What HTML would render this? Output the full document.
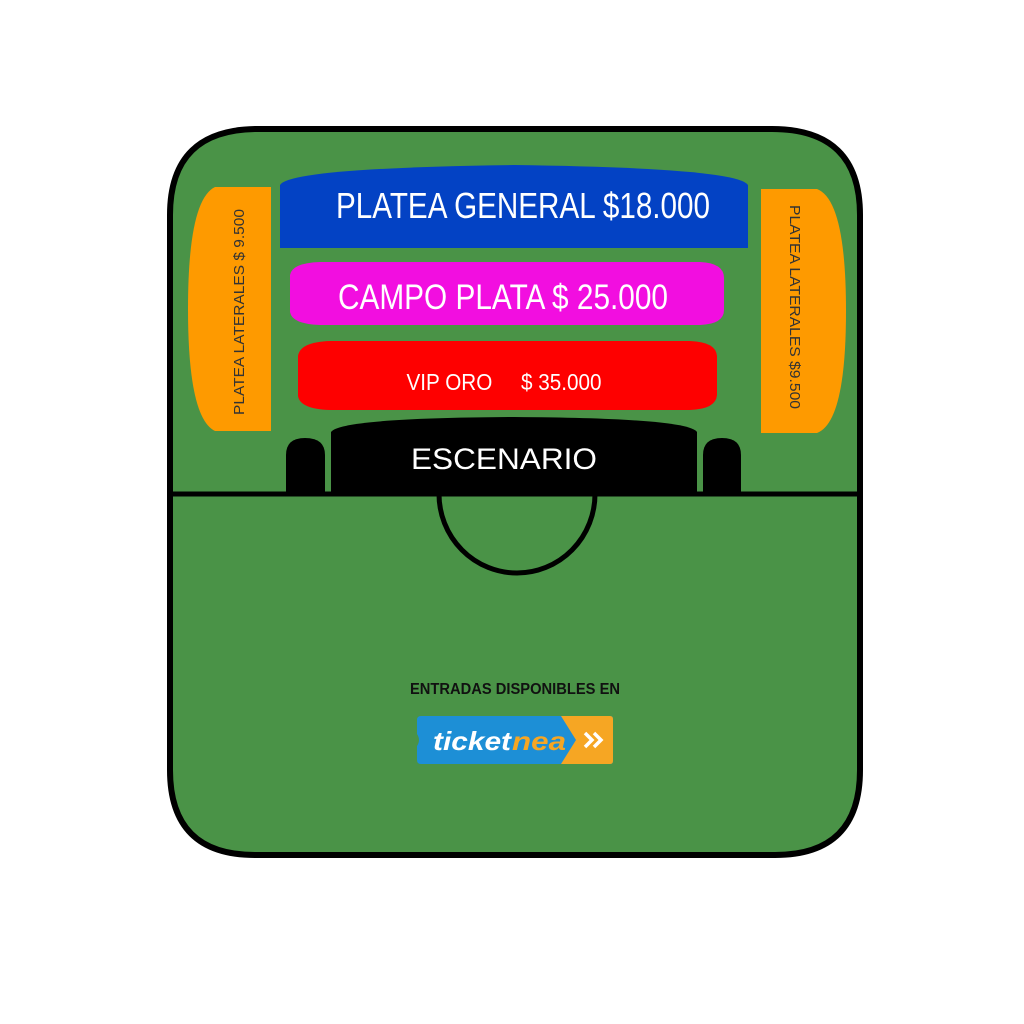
<!DOCTYPE html>
<html><head><meta charset="utf-8"><style>html,body{margin:0;padding:0;background:#fff}svg{display:block}</style></head>
<body>
<svg width="1024" height="1024" viewBox="0 0 1024 1024" xmlns="http://www.w3.org/2000/svg" font-family="'Liberation Sans', sans-serif">
<rect width="1024" height="1024" fill="#fff"/>
<path d="M258,129 L772,129 Q860,129 860,215 L860,770 Q860,855 775,855 L255,855 Q170,855 170,770 L170,215 Q170,129 258,129 Z" fill="#4a9347" stroke="#000" stroke-width="6"/>
<line x1="171" y1="494" x2="859" y2="494" stroke="#000" stroke-width="5"/>
<path d="M439,494 A78,79 0 0 0 595,494" fill="none" stroke="#000" stroke-width="5"/>
<!-- blue -->
<path d="M280,248 L280,185 Q290,168 514,165 Q738,168 748,185 L748,248 Z" fill="#0342c4"/>
<text x="523" y="218" fill="#fff" font-size="36" text-anchor="middle" textLength="374" lengthAdjust="spacingAndGlyphs">PLATEA GENERAL $18.000</text>
<!-- magenta -->
<path d="M290,275 Q292,263 320,262 L700,262 Q724,263 724,278 L724,310 Q724,324 700,325 L320,325 Q292,324 290,312 Z" fill="#f20ee0"/>
<text x="503" y="309" fill="#fff" font-size="35" text-anchor="middle" textLength="330" lengthAdjust="spacingAndGlyphs">CAMPO PLATA $ 25.000</text>
<!-- red -->
<path d="M298,356 Q300,342 330,341 L690,341 Q716,342 717,356 L717,395 Q716,409 690,410 L330,410 Q300,409 298,396 Z" fill="#fe0000"/>
<text x="504" y="390" fill="#fff" font-size="23" text-anchor="middle" textLength="195" lengthAdjust="spacingAndGlyphs">VIP ORO &#160;&#160;&#160;&#160;$ 35.000</text>
<!-- left orange -->
<path d="M271,187 L215,187 Q188,200 188,309 Q188,418 215,431 L271,431 Z" fill="#fe9a00"/>
<text transform="translate(244,312) rotate(-90)" fill="#333" font-size="15" text-anchor="middle" textLength="206" lengthAdjust="spacingAndGlyphs">PLATEA LATERALES $ 9.500</text>
<!-- right orange -->
<path d="M761,189 L817,189 Q846,200 846,311 Q846,422 817,433 L761,433 Z" fill="#fe9a00"/>
<text transform="translate(790,307) rotate(90)" fill="#333" font-size="15" text-anchor="middle" textLength="204" lengthAdjust="spacingAndGlyphs">PLATEA LATERALES $9.500</text>
<!-- stage -->
<path d="M331,492 L331,432 Q340,418 514,417 Q688,418 697,432 L697,492 Z" fill="#000"/>
<text x="504" y="469" fill="#fff" font-size="30" text-anchor="middle" textLength="186" lengthAdjust="spacingAndGlyphs">ESCENARIO</text>
<path d="M286,492 L286,455 Q286,438 305,438 Q325,438 325,455 L325,492 Z" fill="#000"/>
<path d="M703,492 L703,455 Q703,438 722,438 Q741,438 741,455 L741,492 Z" fill="#000"/>
<!-- bottom text -->
<text x="515" y="694" fill="#111" font-size="16" font-weight="bold" text-anchor="middle" textLength="210" lengthAdjust="spacingAndGlyphs">ENTRADAS DISPONIBLES EN</text>
<!-- logo -->
<path d="M421,716 L610,716 Q613,716 613,719 L613,761 Q613,764 610,764 L421,764 Q417,764 417,760 L417,746 Q421,740 417,734 L417,720 Q417,716 421,716 Z" fill="#1d8fd6"/>
<path d="M561,716 L610,716 Q613,716 613,719 L613,761 Q613,764 610,764 L561,764 L576,740 Z" fill="#f6a623"/>
<text x="433" y="750" fill="#fff" font-size="26" font-weight="bold" font-style="italic" textLength="78" lengthAdjust="spacingAndGlyphs">ticket</text>
<text x="512" y="750" fill="#f6a623" font-size="26" font-weight="bold" font-style="italic" textLength="54" lengthAdjust="spacingAndGlyphs">nea</text>
<path d="M585,733 L592,740 L585,747 M594,733 L601,740 L594,747" fill="none" stroke="#fff" stroke-width="3.5"/>
</svg>
</body></html>
